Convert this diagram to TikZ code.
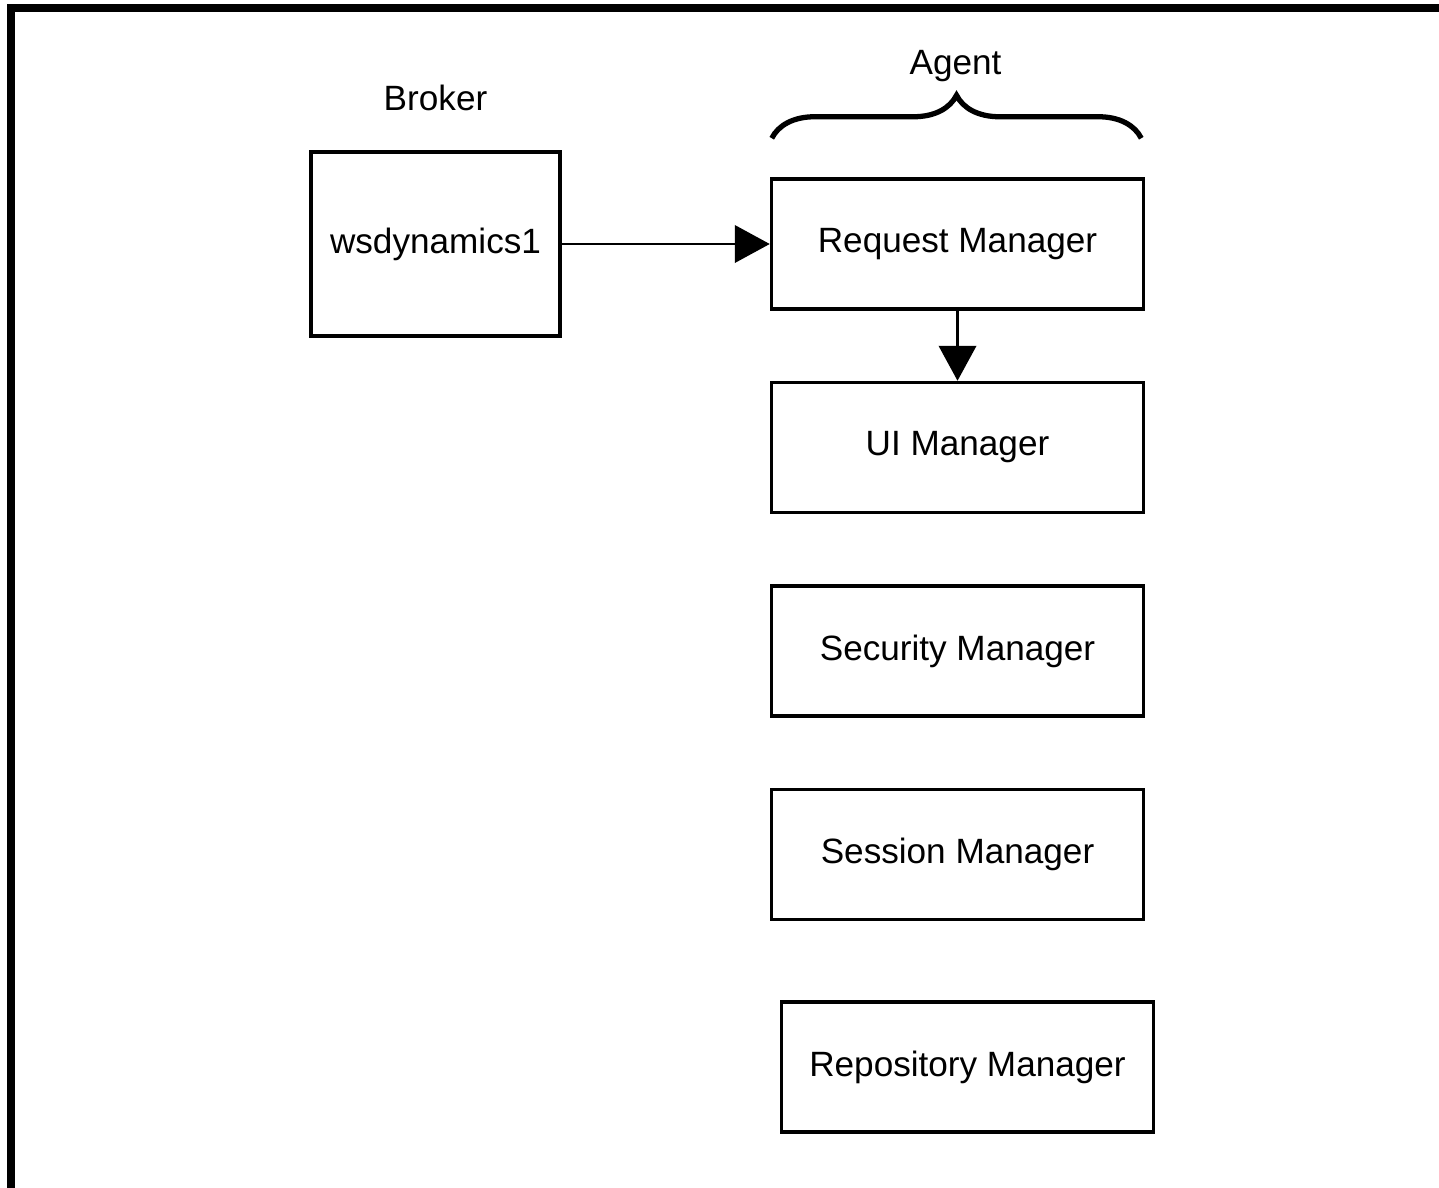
\documentclass[tikz,border=0pt]{standalone}
\usepackage{fontspec}
\setmainfont{Liberation Sans}
\usetikzlibrary{arrows.meta}
\usetikzlibrary{shapes.misc, positioning}
\usetikzlibrary{decorations.pathreplacing}
\def\lbl{\fontsize{20}{24}\selectfont}
\tikzstyle{mgr} = [rectangle, minimum width=7.44cm, minimum height=2.6cm, text centered, draw=black, line width=2pt, font=\lbl]
\tikzstyle{host} = [rectangle, minimum width=4.98cm, minimum height=3.68cm, text centered, draw=black, line width=2pt, font=\lbl]
\tikzstyle{capt} = [font=\lbl]
\tikzstyle{aro} = [-{Triangle[length=7mm,width=7.5mm]}, line width=1.3pt]
\tikzstyle{brc} = [decorate, decoration={brace, amplitude=0.86cm}, line width=3pt]

\begin{document}
\begin{tikzpicture}

  \useasboundingbox (0,0) rectangle (28.78,-23.76);
  \draw [line width=4.5pt] (0.22,-0.16) rectangle (29.3,-24.0);

  \node (ws) [host] at (8.71,-4.88) {wsdynamics1};
  \node (broker) [capt, above=0.67cm of ws] {Broker};

  \node (req) [mgr, right=4.16cm of ws] {Request Manager};
  \node (ui) [mgr, below=1.40cm of req] {UI Manager};
  \node (sec) [mgr, below=1.40cm of ui] {Security Manager};
  \node (sess) [mgr, below=1.40cm of sec] {Session Manager};
  \node (repo) [mgr, below=1.58cm of sess, xshift=0.2cm] {Repository Manager};

  \draw [aro] (ws) -- (req);
  \draw [aro] (req) -- (ui);

  \draw [brc] ([xshift=0.04cm,yshift=0.78cm]req.north west)
           -- ([xshift=-0.08cm,yshift=0.78cm]req.north east);
  \coordinate (tip) at ([xshift=-0.04cm,yshift=1.64cm]req.north);
  \node (agent) [capt, above=0.14cm of tip] {Agent};

\end{tikzpicture}
\end{document}
